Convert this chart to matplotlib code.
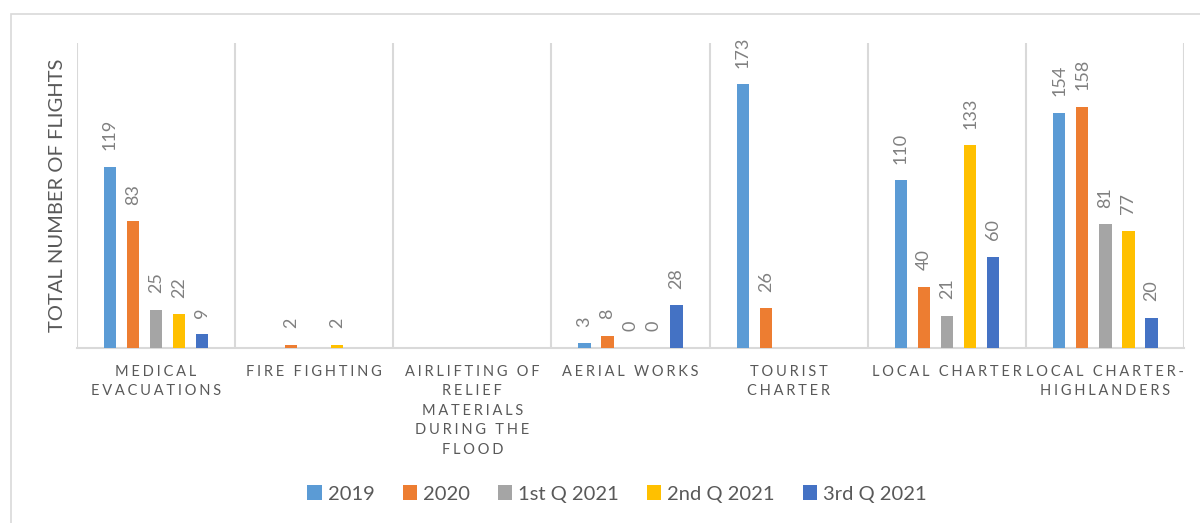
import matplotlib.pyplot as plt
import numpy as np
from matplotlib.patches import Rectangle, Patch

categories = ["MEDICAL\nEVACUATIONS", "FIRE FIGHTING",
              "AIRLIFTING OF\nRELIEF\nMATERIALS\nDURING THE\nFLOOD",
              "AERIAL WORKS", "TOURIST\nCHARTER", "LOCAL CHARTER",
              "LOCAL CHARTER-\nHIGHLANDERS"]
series_names = ["2019", "2020", "1st Q 2021", "2nd Q 2021", "3rd Q 2021"]
v2019 = [119, None, None, 3, 173, 110, 154]
v2020 = [83, 2, None, 8, 26, 40, 158]
v1q2021 = [25, None, None, 0, None, 21, 81]
v2q2021 = [22, 2, None, 0, None, 133, 77]
v3q2021 = [9, None, None, 28, None, 60, 20]
colors = ["#5B9BD5", "#ED7D31", "#A5A5A5", "#FFC000", "#4472C4"]

FONT = ["Lato", "DejaVu Sans"]
plt.rcParams['font.family'] = FONT


def spaced(s):
    # mimic the wide letter spacing of the original axis labels
    return "\n".join("\u2009\u200a".join(line) for line in s.split("\n"))


fig = plt.figure(figsize=(12, 5.23), dpi=100)
ax = fig.add_axes([0.064, 0.3346, 0.923, 0.5832])

# outer chart frame
fig.patches.append(Rectangle((11 / 1200, -0.01), 1.0, 1 - 14 / 523 + 0.01,
                             transform=fig.transFigure, fill=False,
                             edgecolor="#d9d9d9", linewidth=1.2))

x = np.arange(len(categories))
step = 0.1456
width = 0.079
all_series = [v2019, v2020, v1q2021, v2q2021, v3q2021]
for i, vals in enumerate(all_series):
    xs = x + (i - 2) * step
    for xi, v in zip(xs, vals):
        if v is None:
            continue
        ax.bar(xi, v, width=width, color=colors[i], zorder=3)
        ax.annotate(str(v), (xi, v), xytext=(0, 12), textcoords="offset points",
                    rotation=90, ha="center", va="bottom", fontsize=13,
                    color="#808080")

ax.set_xlim(-0.5, len(categories) - 0.5)
ax.set_ylim(0, 200)
ax.set_yticks([])

# category separators
for b in np.arange(-0.5, len(categories), 1.0):
    ax.axvline(b, color="#d9d9d9", linewidth=1.5, zorder=1)

for s in ["top", "right", "left"]:
    ax.spines[s].set_visible(False)
ax.spines["bottom"].set_color("#d9d9d9")
ax.spines["bottom"].set_linewidth(1.5)

ax.set_xticks(x)
ax.set_xticklabels([spaced(c) for c in categories], fontsize=10.5,
                   color="#595959", linespacing=1.5)
ax.tick_params(axis="x", length=0, pad=12)

ax.set_ylabel("TOTAL NUMBER OF FLIGHTS", fontsize=14.5, color="#595959", labelpad=8)

handles = [Patch(facecolor=c, edgecolor="none") for c in colors]
fig.legend(handles, series_names, loc="center",
           bbox_to_anchor=(617 / 1200, 1 - 494 / 523), ncol=5, frameon=False,
           fontsize=14.5, handlelength=0.7, handleheight=0.7, handletextpad=0.3,
           columnspacing=1.4, labelcolor="#595959")

fig.savefig("out.png", dpi=100)
